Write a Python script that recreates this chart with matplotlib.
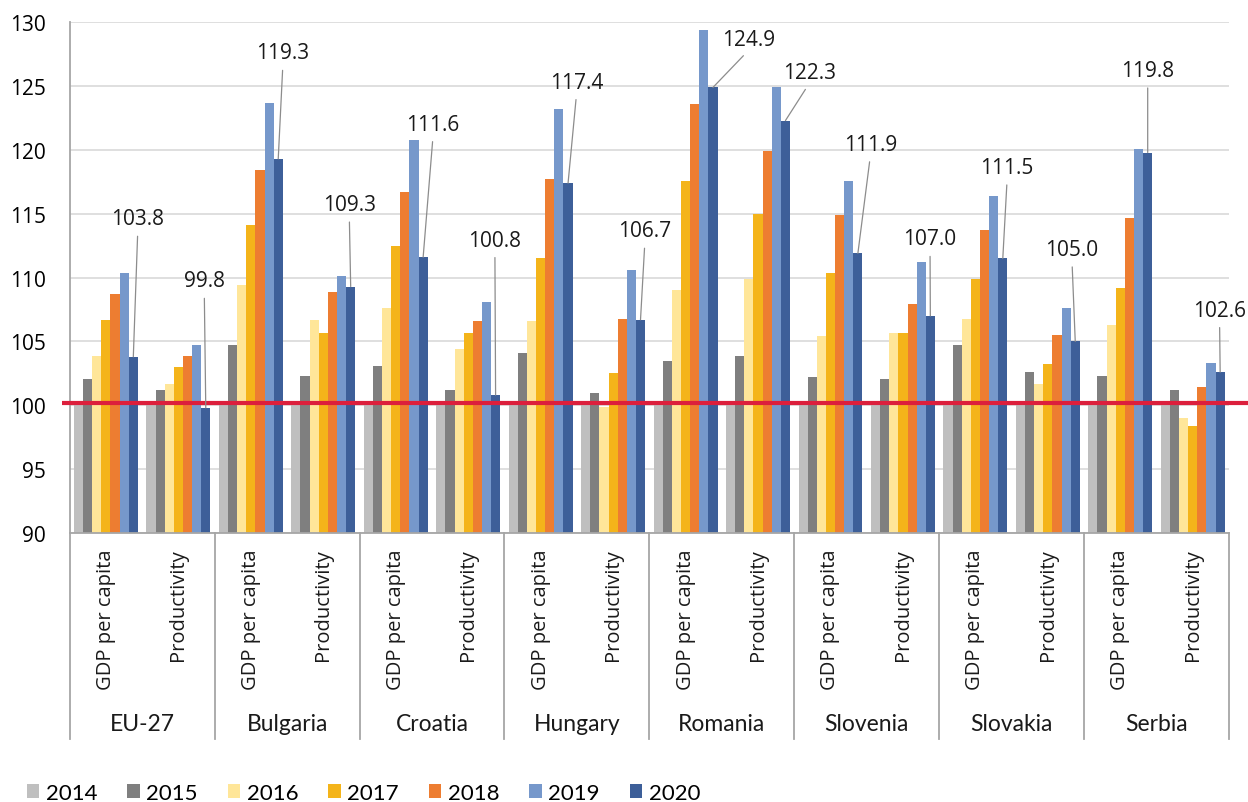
import matplotlib
matplotlib.use("Agg")
import matplotlib.pyplot as plt
import matplotlib.transforms as mtransforms
from matplotlib.patches import Patch
import numpy as np

years = ["2014", "2015", "2016", "2017", "2018", "2019", "2020"]
countries = ["EU-27", "Bulgaria", "Croatia", "Hungary", "Romania", "Slovenia", "Slovakia", "Serbia"]
indicators = ["GDP per capita", "Productivity"]

# index values, 2014 = 100; order per country: GDP per capita, Productivity
v2014 = [100.0] * 16
v2015 = [102.1, 101.2, 104.7, 102.3, 103.1, 101.2, 104.1, 101.0,
         103.5, 103.9, 102.2, 102.1, 104.7, 102.6, 102.3, 101.2]
v2016 = [103.9, 101.7, 109.4, 106.7, 107.6, 104.4, 106.6, 99.9,
         109.0, 109.9, 105.4, 105.7, 106.8, 101.7, 106.3, 99.0]
v2017 = [106.7, 103.0, 114.1, 105.7, 112.5, 105.7, 111.5, 102.5,
         117.6, 115.0, 110.4, 105.7, 109.9, 103.2, 109.2, 98.4]
v2018 = [108.7, 103.9, 118.4, 108.9, 116.7, 106.6, 117.7, 106.8,
         123.6, 119.9, 114.9, 107.9, 113.7, 105.5, 114.7, 101.4]
v2019 = [110.4, 104.7, 123.7, 110.1, 120.8, 108.1, 123.2, 110.6,
         129.4, 124.9, 117.6, 111.2, 116.4, 107.6, 120.1, 103.3]
v2020 = [103.8, 99.8, 119.3, 109.3, 111.6, 100.8, 117.4, 106.7,
         124.9, 122.3, 111.9, 107.0, 111.5, 105.0, 119.8, 102.6]
series = [v2014, v2015, v2016, v2017, v2018, v2019, v2020]

colors = ["#BFBFBF", "#7F7F7F", "#FFE699", "#F4B41A", "#ED7D31", "#7698CB", "#3D5F99"]

# where each 2020 value label sits, in pixels from the top of its bar
label_offsets = [(4.5, 138), (-1.5, 127), (4.7, 106), (-1.4, 82), (10, 133), (-0.7, 155),
                 (8.6, 101), (4.4, 89), (36, 48), (24, 48), (12.6, 109), (-0.3, 77),
                 (4.4, 91), (-3.3, 92), (0, 82), (-0.6, 62)]

FONT = ["Open Sans", "DejaVu Sans"]
NARROW = ["Lato", "DejaVu Sans"]

W, H, DPI = 1248, 803, 100
fig = plt.figure(figsize=(W / DPI, H / DPI), dpi=DPI)
ax = fig.add_axes([69.7 / W, 1 - 534 / H, (1229 - 69.7) / W, (534 - 23.3) / H])

n_cat = len(countries) * len(indicators)
x = np.arange(n_cat)
bw = 0.126

for j, (vals, c) in enumerate(zip(series, colors)):
    ax.bar(x + (j - 3) * bw, np.array(vals) - 90, bw, bottom=90, color=c,
           linewidth=0, label=years[j], zorder=2)

ax.set_xlim(-0.5, n_cat - 0.5)
ax.set_ylim(90, 130)
ax.set_yticks(np.arange(90, 131, 5))
ax.set_yticklabels([str(v) for v in range(90, 131, 5)], fontfamily=FONT, fontsize=15)
ax.tick_params(axis="y", length=0, pad=17)
ax.set_xticks([])
ax.grid(axis="y", color="#D9D9D9", linewidth=1.2, zorder=0)
ax.set_axisbelow(True)

for side in ["top", "right"]:
    ax.spines[side].set_visible(False)
for side in ["left", "bottom"]:
    ax.spines[side].set_color("#A6A6A6")
    ax.spines[side].set_linewidth(1.3)

trans_y = mtransforms.blended_transform_factory(ax.transAxes, ax.transData)
trans_x = mtransforms.blended_transform_factory(ax.transData, ax.transAxes)

# reference line at the base-year level
ax.plot([-0.007, 1.017], [100.2, 100.2], transform=trans_y,
        color="#DC1F3C", linewidth=3, clip_on=False, zorder=3, solid_capstyle="butt")

# 2020 value labels with leader lines
for i, (v, (dx, dy)) in enumerate(zip(v2020, label_offsets)):
    ax.annotate(f"{v:.1f}", xy=(x[i] + 3 * bw, v), xytext=(dx, dy),
                textcoords="offset pixels", ha="center", va="center",
                fontfamily=FONT, fontsize=15, color="#1A1A1A", zorder=5,
                arrowprops=dict(arrowstyle="-", color="#8C8C8C", linewidth=0.9,
                                shrinkA=3, shrinkB=0, relpos=(0.5, 0.0)))

# two-level category axis below the plot
ax_h = 534 - 23.3
for i in range(n_cat):
    ax.text(x[i], -15 / ax_h, indicators[i % 2], transform=trans_x, rotation=90,
            ha="center", va="top", fontfamily=FONT, fontsize=14.5, color="#1A1A1A")
for k, name in enumerate(countries):
    ax.text(2 * k + 0.5, -191 / ax_h, name, transform=trans_x, ha="center", va="center",
            fontfamily=NARROW, fontsize=16.5, color="#1A1A1A")
for k in range(len(countries) + 1):
    ax.plot([2 * k - 0.5, 2 * k - 0.5], [0, -206 / ax_h], transform=trans_x,
            color="#A6A6A6", linewidth=1.3, clip_on=False)

handles = [Patch(facecolor=c, edgecolor="none") for c in colors]
fig.legend(handles, years, loc="center left", bbox_to_anchor=(27 / W, 1 - 794 / H),
           ncol=7, frameon=False, prop={"family": NARROW, "size": 16},
           handlelength=0.55, handleheight=0.55, handletextpad=0.3, columnspacing=1.35,
           borderaxespad=0, borderpad=0)

fig.savefig("out.png", dpi=DPI)
